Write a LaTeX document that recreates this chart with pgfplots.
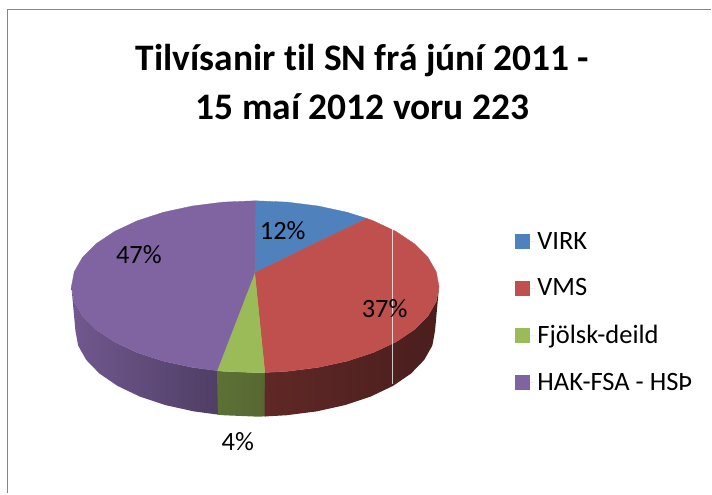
\documentclass[border=0pt]{standalone}
\usepackage{pgfplots}
\pgfplotsset{compat=1.18}
\usepackage{fontspec}
\setmainfont{Carlito}[Ligatures=NoCommon]
\definecolor{virk}{HTML}{4F81BD}
\definecolor{vms}{HTML}{C0504D}
\definecolor{fjol}{HTML}{9BBB59}
\definecolor{hak}{HTML}{8064A2}
\definecolor{frame}{HTML}{868686}
\newcommand{\slice}[2]{\addplot[fill=#1,draw=#1,line width=0.3pt,forget plot] coordinates {#2} -- cycle;}
\pgfplotsset{
  sq/.style={legend image code/.code={
    \fill[##1,draw=none] (0bp,-7.5bp) rectangle (15bp,7.5bp);
    \path[draw=none] (0bp,0bp) -- (20bp,0bp);}}
}
\begin{document}
\begin{tikzpicture}[x=1bp,y=1bp]
\begin{axis}[
  width=712bp, height=494bp, scale only axis,
  xmin=0, xmax=712, ymin=0, ymax=494, y dir=reverse,
  hide axis, clip=false,
  legend style={at={(axis cs:516,240.5)},anchor=north west,draw=none,fill=none,
    font=\fontsize{26.6}{26.6}\selectfont,inner sep=0pt,outer sep=0pt,
    row sep=24bp,yshift=10bp},
  legend cell align=left,
]
\path (axis cs:0,0) rectangle (axis cs:712,494);
\addlegendimage{sq,fill=virk}\addlegendentry{VIRK}
\addlegendimage{sq,fill=vms}\addlegendentry{VMS}
\addlegendimage{sq,fill=fjol}\addlegendentry{Fjölsk-deild}
\addlegendimage{sq,fill=hak}\addlegendentry{HAK-FSA - HSÞ}

% frame (left and top only reach the picture)
\addplot[frame,line width=1.5bp,forget plot] coordinates {(7.5,494) (7.5,9.5) (712,9.5)};

% side wall of the pie, each part runs a little under the next
\addplot[left color=hak!88!black,right color=hak!62!black,draw=none,forget plot] coordinates {
  (218.5,371.1) (192.6,367.8) (163.5,361.5) (137.2,352.9) (114.6,342.3) (96.2,330) (82.6,316.4) (74.3,301.9) (71.5,287)
  (75.5,331) (78.2,345.9) (86.4,360.4) (99.6,374) (117.6,386.3) (139.8,396.9) (165.5,405.5) (193.9,411.8) (219.5,415.2)} -- cycle;
\addplot[left color=fjol!60!black,right color=fjol!56!black,draw=none,forget plot] coordinates {
  (266.5,372.9) (255.5,373) (223.6,371.7) (217.2,371.1)
  (218.1,415.1) (224.3,415.7) (255.5,417) (266.3,416.9)} -- cycle;
\addplot[left color=vms!50!black,middle color=vms!40!black,right color=vms!38!black,draw=none,forget plot] coordinates {
  (439.5,287) (436.7,301.9) (428.4,316.4) (414.8,330) (396.4,342.3) (373.8,352.9) (347.5,361.5) (318.4,367.8) (287.4,371.7) (265.1,372.9)
  (264.9,416.9) (286.7,415.7) (317.1,411.8) (345.5,405.5) (371.2,396.9) (393.4,386.3) (411.4,374) (424.6,360.4) (432.8,345.9) (435.5,331)} -- cycle;

% top face: shares 12, 37, 4, 47 percent
\slice{virk}{(255,273) (255.5,201) (287.4,202.3) (318.4,206.2) (347.5,212.5) (367,218.6)}
\slice{vms}{(255,273) (367,218.6) (373.8,221.1) (396.4,231.7) (414.8,244) (428.4,257.6) (436.7,272.1) (439.5,287)
  (436.7,301.9) (428.4,316.4) (414.8,330) (396.4,342.3) (373.8,352.9) (347.5,361.5) (318.4,367.8) (287.4,371.7) (265.1,372.9)}
\slice{fjol}{(255,273) (265.1,372.9) (255.5,373) (223.6,371.7) (217.2,371.1)}
\slice{hak}{(255,273) (217.2,371.1) (192.6,367.8) (163.5,361.5) (137.2,352.9) (114.6,342.3) (96.2,330) (82.6,316.4) (74.3,301.9) (71.5,287)
  (74.3,272.1) (82.6,257.6) (96.2,244) (114.6,231.7) (137.2,221.1) (163.5,212.5) (192.6,206.2) (223.6,202.3) (255.5,201)}

% thin white line across the red slice
\addplot[white,opacity=0.75,line width=1bp,forget plot] coordinates {(392.7,229) (392.7,384)};

\node[font=\fontsize{26.5}{26.5}\selectfont] at (axis cs:283,231) {12\%};
\node[font=\fontsize{26.5}{26.5}\selectfont] at (axis cs:385,309) {37\%};
\node[font=\fontsize{26.5}{26.5}\selectfont] at (axis cs:238,442) {4\%};
\node[font=\fontsize{26.5}{26.5}\selectfont] at (axis cs:139,255) {47\%};

\node[font=\bfseries\fontsize{37.6}{49}\selectfont,align=center] at (axis cs:363,82)
  {Tilvísanir til SN frá júní 2011 -\\15 maí 2012 voru 223};
\end{axis}
\end{tikzpicture}
\end{document}
